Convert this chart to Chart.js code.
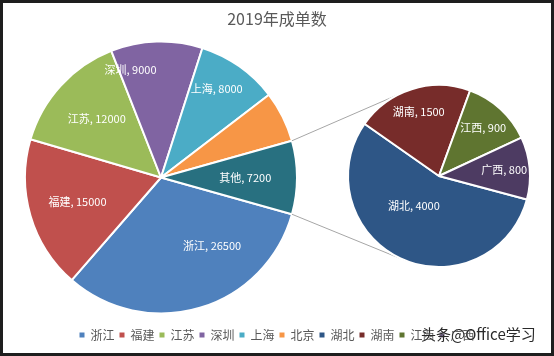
<!DOCTYPE html>
<html><head><meta charset="utf-8">
<script src="https://cdn.jsdelivr.net/npm/chart.js@4.4.1/dist/chart.umd.min.js"></script>
<style>
html,body{margin:0;padding:0;background:#fff;}
#wrap{position:relative;width:554px;height:356px;overflow:hidden;background:#fff;}
#wrap canvas{position:absolute;left:0;top:0;}
#frame{position:absolute;left:0;top:0;width:554px;height:356px;box-sizing:border-box;border:3px solid #1e1e1e;pointer-events:none;}
#wm{position:absolute;left:421px;top:326px;font:15px/15px "Noto Sans CJK SC",sans-serif;color:#2a2a2a;white-space:nowrap;text-shadow:0 0 1px #fff;}
</style></head><body>
<div id="wrap">
<canvas id="c1" width="554" height="356"></canvas>
<canvas id="c2" width="554" height="356"></canvas>
<div id="wm">头条@Office学习</div>
<div id="frame"></div>
</div>
<script>
// ---- data ----
const titleText = '2019年成单数';
const mainLabels = ['浙江', '福建', '江苏', '深圳', '上海', '北京', '其他'];
const mainValues = [26500, 15000, 12000, 9000, 8000, 5000, 7200];
const subLabels = ['湖北', '湖南', '江西', '广西'];
const subValues = [4000, 1500, 900, 800];

// ---- styles ----
const mainColors = ['#4F81BD', '#C0504D', '#9BBB59', '#8064A2', '#4BACC6', '#F79646', '#287080'];
const subColors = ['#2E5686', '#772C2A', '#5F7530', '#4D3B62'];
const FONT = "'Noto Sans CJK SC', 'Noto Sans', sans-serif";
Chart.defaults.font.family = FONT;

const otherIndex = mainLabels.indexOf('其他');

function areaPlugin(cx, cy, half) {
  return {
    id: 'area',
    afterLayout(chart) {
      chart.chartArea = {left: cx - half, right: cx + half, top: cy - half, bottom: cy + half, width: 2 * half, height: 2 * half};
    }
  };
}

const labelPlugin = {
  id: 'sliceLabels',
  afterDatasetsDraw(chart, args, opts) {
    const meta = chart.getDatasetMeta(0);
    const ds = chart.data.datasets[0];
    const ctx = chart.ctx;
    ctx.save();
    ctx.font = opts.font;
    ctx.fillStyle = '#ffffff';
    ctx.textAlign = 'center';
    ctx.textBaseline = 'middle';
    meta.data.forEach((arc, i) => {
      if ((opts.skip || []).includes(i)) return;
      const t = (opts.tweaks || {})[i] || {};
      const p = arc.getProps(['x', 'y', 'startAngle', 'endAngle', 'outerRadius'], true);
      const a = (p.startAngle + p.endAngle) / 2 + (t.da || 0) * Math.PI / 180;
      const rr = p.outerRadius * (t.r || opts.r);
      ctx.fillText(chart.data.labels[i] + ', ' + ds.data[i], p.x + rr * Math.cos(a), p.y + rr * Math.sin(a));
    });
    ctx.restore();
  }
};

const legendLabels = mainLabels.filter((l, i) => i !== otherIndex).concat(subLabels);
const legendColors = mainColors.filter((c, i) => i !== otherIndex).concat(subColors);

const mainTotal = mainValues.reduce((a, b) => a + b, 0);
const mainRotation = 90 + 180 * mainValues[otherIndex] / mainTotal;

const chartA = new Chart(document.getElementById('c1'), {
  type: 'pie',
  data: {
    labels: mainLabels,
    datasets: [{data: mainValues, backgroundColor: mainColors, borderColor: '#ffffff', borderWidth: 2, hoverOffset: 0}]
  },
  options: {
    responsive: false,
    animation: false,
    rotation: mainRotation,
    layout: {padding: {bottom: 5}},
    plugins: {
      tooltip: {enabled: false},
      title: {
        display: true, text: titleText, color: '#595959',
        font: {size: 16, weight: 'normal', family: FONT},
        padding: {top: 9, bottom: 0}
      },
      legend: {
        position: 'bottom',
        onClick: null,
        labels: {
          boxWidth: 5, boxHeight: 5, padding: 5, color: '#595959',
          font: {size: 12, family: FONT},
          generateLabels: () => legendLabels.map((t, i) => ({
            text: t, fillStyle: legendColors[i], strokeStyle: legendColors[i], lineWidth: 0, hidden: false, index: i, fontColor: '#595959'
          }))
        }
      },
      sliceLabels: {
        font: "11px " + FONT, r: 0.64, skip: [5],
        tweaks: {0: {da: -20, r: 0.63}, 3: {da: -14, r: 0.82}, 4: {da: -3, r: 0.77}, 6: {r: 0.62}}
      }
    }
  },
  plugins: [areaPlugin(161, 177.5, 137), labelPlugin]
});

const connectorPlugin = {
  id: 'connectors',
  beforeDatasetsDraw(chart) {
    const a = chartA.getDatasetMeta(0).data[otherIndex];
    const pa = a.getProps(['x', 'y', 'startAngle', 'endAngle', 'outerRadius'], true);
    const b = chart.getDatasetMeta(0).data[0];
    const pb = b.getProps(['x', 'y', 'outerRadius'], true);
    const ang = 111 * Math.PI / 180;
    const ctx = chart.ctx;
    ctx.save();
    ctx.strokeStyle = '#A6A6A6';
    ctx.lineWidth = 1;
    ctx.beginPath();
    ctx.moveTo(pa.x + pa.outerRadius * Math.cos(pa.startAngle), pa.y + pa.outerRadius * Math.sin(pa.startAngle));
    ctx.lineTo(pb.x + pb.outerRadius * Math.cos(-ang), pb.y + pb.outerRadius * Math.sin(-ang));
    ctx.moveTo(pa.x + pa.outerRadius * Math.cos(pa.endAngle), pa.y + pa.outerRadius * Math.sin(pa.endAngle));
    ctx.lineTo(pb.x + pb.outerRadius * Math.cos(ang), pb.y + pb.outerRadius * Math.sin(ang));
    ctx.stroke();
    ctx.restore();
  }
};

new Chart(document.getElementById('c2'), {
  type: 'pie',
  data: {
    labels: subLabels,
    datasets: [{data: subValues, backgroundColor: subColors, borderColor: '#ffffff', borderWidth: 2, hoverOffset: 0}]
  },
  options: {
    responsive: false,
    animation: false,
    rotation: 105,
    plugins: {
      tooltip: {enabled: false},
      title: {display: false},
      legend: {display: false},
      sliceLabels: {
        font: "11px " + FONT, r: 0.72,
        tweaks: {0: {da: 15, r: 0.43}, 1: {r: 0.74}}
      }
    }
  },
  plugins: [areaPlugin(439, 176, 92), labelPlugin, connectorPlugin]
});
</script>
</body></html>
